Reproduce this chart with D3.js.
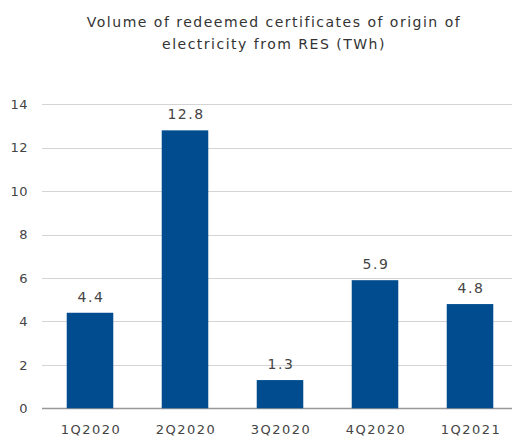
<!DOCTYPE html>
<html>
<head>
<meta charset="utf-8">
<script src="https://cdn.jsdelivr.net/npm/d3@7"></script>
<style>
  body { margin: 0; background: #fff; }
  svg { display: block; font-family: "DejaVu Sans", Verdana, sans-serif; }
</style>
</head>
<body>
<div id="chart"></div>
<script>
// quarters and redeemed volume (TWh)
var quarters = ["1Q2020", "2Q2020", "3Q2020", "4Q2020", "1Q2021"]
var volumes = [4.4, 12.8, 1.3, 5.9, 4.8]
var yTicks = [0, 2, 4, 6, 8, 10, 12, 14]
var titleLines = ["Volume of redeemed certificates of origin of", "electricity from RES (TWh)"]

var width = 512, height = 438

var svg = d3.select("#chart").append("svg")
            .attr("width", width)
            .attr("height", height)

var x = d3.scaleBand()
          .domain(quarters)
          .range([42.5, 517.5])
          .paddingInner(0.51)
          .paddingOuter(0.255)

var y = d3.scaleLinear()
          .domain([0, 14])
          .range([408.3, 104.3])

// gridlines
svg.append("g")
   .selectAll("line")
   .data(yTicks)
   .join("line")
   .attr("x1", 42)
   .attr("x2", width)
   .attr("y1", d => Math.round(y(d)) + 0.5)
   .attr("y2", d => Math.round(y(d)) + 0.5)
   .attr("stroke", d => d == 0 ? "#999" : "#d4d4d4")
   .attr("stroke-width", d => d == 0 ? 1.5 : 1)

// y axis labels
var yAxis = svg.append("g")
   .attr("transform", "translate(28,0)")
   .call(d3.axisLeft(y).tickValues(yTicks).tickSize(0).tickPadding(0))
yAxis.select(".domain").remove()
yAxis.selectAll("text")
     .attr("font-size", 13)
     .attr("letter-spacing", 0.5)
     .attr("fill", "#444")
     .attr("font-family", "DejaVu Sans, Verdana, sans-serif")

// x axis labels
var xAxis = svg.append("g")
   .attr("transform", "translate(1,425)")
   .call(d3.axisBottom(x).tickSize(0).tickPadding(0))
xAxis.select(".domain").remove()
xAxis.selectAll("text")
     .attr("font-size", 13)
     .attr("letter-spacing", 1.5)
     .attr("fill", "#444")
     .attr("font-family", "DejaVu Sans, Verdana, sans-serif")

// bars
svg.append("g")
   .selectAll("rect")
   .data(volumes)
   .join("rect")
   .attr("x", (d, i) => x(quarters[i]))
   .attr("width", x.bandwidth())
   .attr("y", d => y(d))
   .attr("height", d => y(0) - y(d))
   .attr("fill", "#004c8f")

// value labels
svg.append("g")
   .selectAll("text")
   .data(volumes)
   .join("text")
   .attr("x", (d, i) => x(quarters[i]) + x.bandwidth() / 2 + 1)
   .attr("y", d => y(d) - 11)
   .attr("text-anchor", "middle")
   .attr("font-size", 14)
   .attr("letter-spacing", 1.5)
   .attr("fill", "#444")
   .text(d => d.toFixed(1))

// title
svg.append("g")
   .selectAll("text")
   .data(titleLines)
   .join("text")
   .attr("x", 274)
   .attr("y", (d, i) => 27 + i * 22)
   .attr("text-anchor", "middle")
   .attr("font-size", 14)
   .attr("letter-spacing", 1.5)
   .attr("fill", "#333")
   .text(d => d)
</script>
</body>
</html>
